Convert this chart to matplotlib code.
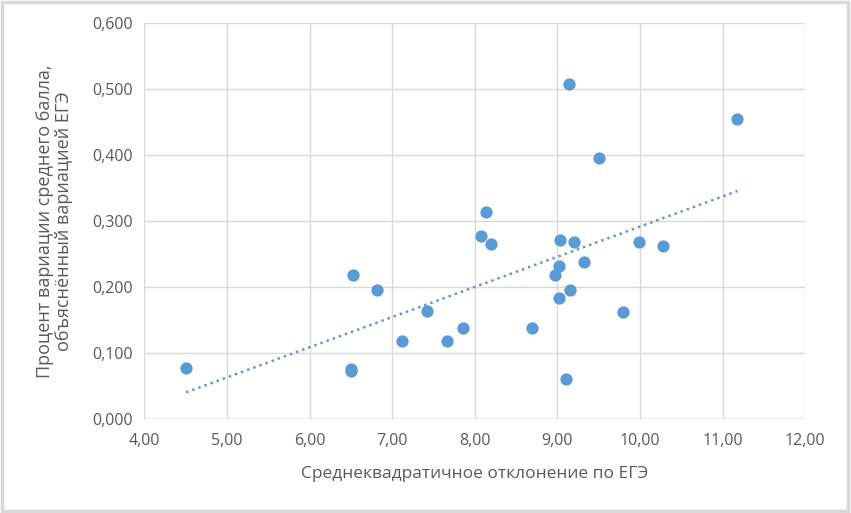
"""
Диаграмма рассеяния: СКО по ЕГЭ vs доля объяснённой вариации, с линейным трендом.
"""

import numpy as np
import matplotlib
matplotlib.use("Agg")
import matplotlib.pyplot as plt
from matplotlib.patches import Rectangle
import matplotlib.ticker as ticker


# ------------------------------------------------------------------
# Данные
# ------------------------------------------------------------------
sd_ege = [4.505, 6.526, 6.817, 6.502, 6.502, 7.124, 7.423, 7.665, 7.859,
          8.078, 8.138, 8.199, 8.696, 9.136, 11.18, 9.508, 9.027, 9.205,
          9.985, 10.275, 9.326, 9.015, 8.975, 9.156, 9.015, 9.79, 9.11]
share_var = [0.078, 0.219, 0.196, 0.077, 0.073, 0.119, 0.164, 0.119, 0.139,
             0.277, 0.314, 0.266, 0.139, 0.508, 0.455, 0.396, 0.272, 0.268,
             0.269, 0.263, 0.239, 0.233, 0.219, 0.196, 0.184, 0.163, 0.061]

x_ticks = [4, 5, 6, 7, 8, 9, 10, 11, 12]
y_ticks = [0.0, 0.1, 0.2, 0.3, 0.4, 0.5, 0.6]

x_label = "Среднеквадратичное отклонение по ЕГЭ"
y_label = "Процент вариации среднего балла,\nобъяснённый вариацией ЕГЭ"

BLUE = "#5B9BD5"
GRID = "#D9D9D9"
TEXT = "#595959"

plt.rcParams["font.family"] = ["Open Sans", "DejaVu Sans"]


def comma_fmt(decimals):
    return ticker.FuncFormatter(
        lambda v, _: f"{v:.{decimals}f}".replace(".", ","))


fig = plt.figure(figsize=(8.51, 5.13), dpi=100)
ax = fig.add_axes([0.1696, 0.1826, 0.7766, 0.772])

ax.scatter(sd_ege, share_var, s=78, color=BLUE, zorder=3, linewidths=0)

# линейный тренд
k, b = np.polyfit(sd_ege, share_var, 1)
xt = np.array([min(sd_ege), max(sd_ege)])
ax.plot(xt, k * xt + b, color=BLUE, linewidth=1.8,
        linestyle=(0, (1, 1.6)), zorder=2)

ax.set_xlim(4, 12)
ax.set_ylim(0, 0.6)
ax.set_xticks(x_ticks)
ax.set_yticks(y_ticks)
ax.xaxis.set_major_formatter(comma_fmt(2))
ax.yaxis.set_major_formatter(comma_fmt(3))

ax.grid(True, color=GRID, linewidth=1.0, zorder=0)
ax.set_axisbelow(True)
for s in ax.spines.values():
    s.set_visible(False)
ax.axhline(0, color="#BFBFBF", linewidth=1.0, zorder=1)

ax.tick_params(length=0, labelsize=11.5, labelcolor=TEXT)
ax.tick_params(axis="x", pad=10)
ax.tick_params(axis="y", pad=8)
ax.set_xlabel(x_label, fontsize=12.5, color=TEXT, labelpad=12)
ax.set_ylabel(y_label, fontsize=13, color=TEXT, labelpad=14,
              linespacing=1.05)

# рамка вокруг всей картинки
fig.patches.append(Rectangle((0.002, 0.003), 0.995, 0.993,
                             transform=fig.transFigure, fill=False,
                             edgecolor=GRID, linewidth=2.5))

fig.savefig("out.png", dpi=100)
